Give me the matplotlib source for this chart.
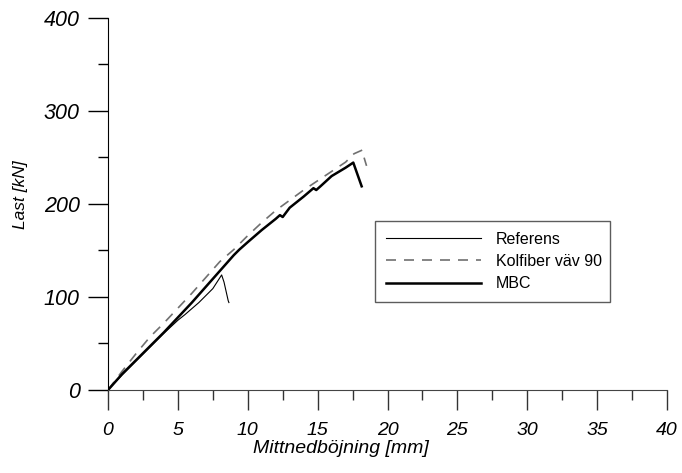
import matplotlib
matplotlib.use('Agg')
import matplotlib.pyplot as plt
from matplotlib.ticker import MultipleLocator

plt.rcParams['font.family'] = ['Liberation Sans', 'DejaVu Sans']

# Referens (thin black)
ref_x = [0, 1, 2, 3, 4, 5, 5.5, 6.5, 7.5, 8.13, 8.3, 8.45, 8.6, 8.65]
ref_y = [0, 16, 31, 46, 61, 75, 81, 94, 109, 123.7, 116, 106, 96, 94]

# Kolfiber väv 90 (grey dashed)
kol_x = [0, 0.5, 1, 2, 3, 4, 5, 6, 7, 8, 9, 10, 11, 12, 13, 14, 15, 16, 17,
         17.6, 18.2, 18.3, 18.5]
kol_y = [0, 10, 20, 39, 57, 72, 88, 104, 121, 138, 151, 166, 180, 193, 204,
         215, 225, 235, 245, 254, 258, 251, 241]

# MBC (thick black)
mbc_x = [0, 1, 2, 3, 4, 5, 6, 7, 8, 9, 9.4, 10, 11, 12, 12.3, 12.5, 12.7, 13,
         14, 14.7, 14.9, 15.2, 16, 17, 17.55, 18.15]
mbc_y = [0, 17, 32, 47, 62, 78, 94, 111, 128, 145, 151, 159, 172, 184, 188,
         186, 190, 196, 208, 217, 215, 219, 230, 239, 244.5, 219]

fig = plt.figure(figsize=(6.82, 4.73), dpi=100)
ax = fig.add_axes([0.1584, 0.1755, 0.8196, 0.7865])

ax.plot(ref_x, ref_y, color='black', lw=0.8, label='Referens')
ax.plot(kol_x, kol_y, color='#707070', lw=1.2, dashes=(6, 4.8),
        label='Kolfiber väv 90')
ax.plot(mbc_x, mbc_y, color='black', lw=1.8, label='MBC')

ax.set_xlim(0, 40)
ax.set_ylim(0, 400)
ax.xaxis.set_major_locator(MultipleLocator(5))
ax.xaxis.set_minor_locator(MultipleLocator(2.5))
ax.yaxis.set_major_locator(MultipleLocator(100))
ax.yaxis.set_minor_locator(MultipleLocator(50))

for s in ['top', 'right']:
    ax.spines[s].set_visible(False)
ax.spines['left'].set_color('black')
ax.spines['bottom'].set_color('#444444')

ax.tick_params(which='major', direction='out', length=14.4, width=1, pad=6)
ax.tick_params(which='minor', direction='out', length=7.2, width=1)
ax.tick_params(axis='x', which='both', color='#333333')
ax.tick_params(axis='x', which='major', labelsize=14, pad=9)
ax.tick_params(axis='y', which='major', labelsize=15.5)
for lab in ax.get_xticklabels() + ax.get_yticklabels():
    lab.set_fontstyle('italic')

ax.set_xlabel('Mittnedböjning [mm]', fontsize=14, style='italic')
ax.set_ylabel('Last [kN]', fontsize=12.5, style='italic')
ax.xaxis.set_label_coords(0.417, -0.134)
ax.yaxis.set_label_coords(-0.143, 0.524)

leg = ax.legend(loc='upper left', bbox_to_anchor=(0.478, 0.227, 0.42, 0.228),
                mode='expand', fontsize=11.5, frameon=True, fancybox=False,
                handlelength=5.9, handletextpad=0.94, borderaxespad=0,
                borderpad=0.7, labelspacing=0.45)
leg.get_frame().set_edgecolor('#333333')
leg.get_frame().set_linewidth(1)

fig.savefig('out.png', dpi=100)
